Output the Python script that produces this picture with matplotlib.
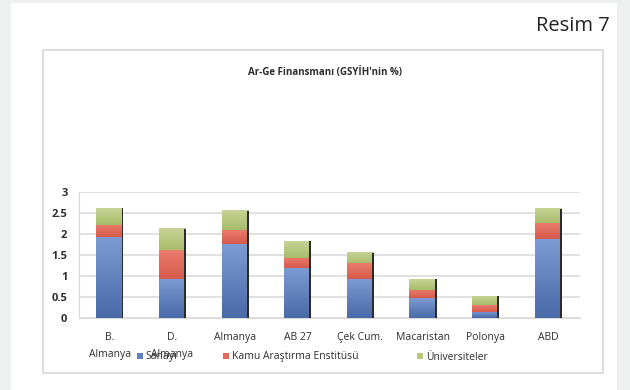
import matplotlib.pyplot as plt
from matplotlib.patches import Rectangle
from matplotlib.colors import LinearSegmentedColormap
import numpy as np

# Ar-Ge finansmani, GSYIH'nin yuzdesi olarak
ulkeler = ["B.\nAlmanya", "D.\nAlmanya", "Almanya", "AB 27", "Çek Cum.", "Macaristan", "Polonya", "ABD"]
sanayi = [1.92, 0.93, 1.76, 1.18, 0.94, 0.47, 0.15, 1.87]
kamu = [0.29, 0.69, 0.33, 0.25, 0.36, 0.20, 0.16, 0.38]
universite = [0.40, 0.51, 0.46, 0.40, 0.24, 0.25, 0.21, 0.34]
seriler = ["Sanayi", "Kamu Araştırma Enstitüsü", "Üniversiteler"]
renkler = ["#5e82bf", "#e2695b", "#b9c97c"]
# her dilim icin alt/ust gecis renkleri
gecisler = [("#4a6aa8", "#7c9bd2"), ("#d65a4b", "#ea7b6c"), ("#a9bc6b", "#c6d396")]

plt.rcParams['font.family'] = ['Open Sans', 'DejaVu Sans']
yazi = "#2e2e2e"

fig = plt.figure(figsize=(6.3, 3.9), dpi=100)
fig.patch.set_facecolor("#eef0ef")

# beyaz kart ve grafik cercevesi
fig.patches.append(Rectangle((11/630, 0), 606/630, 387/390, transform=fig.transFigure,
                             facecolor="white", edgecolor="none", zorder=-2))
fig.patches.append(Rectangle((43/630, 1-373/390), 560/630, 323/390, transform=fig.transFigure,
                             facecolor="white", edgecolor="#d6d8d8", lw=1.2, zorder=-1))

fig.text(610/630, 1-26/390, "Resim 7", ha="right", va="center", fontsize=14.5, color="#222222")
fig.text(325/630, 1-72/390, "Ar-Ge Finansmanı (GSYİH'nin %)", ha="center", va="center",
         fontsize=7, color=yazi, fontweight="bold")

ax = fig.add_axes([78.5/630, 1-318/390, 501/630, 126/390])
ax.set_zorder(2)
ax.set_facecolor("none")
x = np.arange(len(ulkeler))
w = 0.43
alt = np.zeros(len(ulkeler))
handles = []
grad = np.linspace(0, 1, 64).reshape(-1, 1)
for vals, renk, ad, (c0, c1) in zip([sanayi, kamu, universite], renkler, seriler, gecisler):
    b = ax.bar(x, vals, w, bottom=alt, color=renk, label=ad, zorder=3)
    handles.append(b)
    cmap = LinearSegmentedColormap.from_list(ad, [c0, c1])
    for p in b.patches:
        x0, y0 = p.get_x(), p.get_y()
        ax.imshow(grad, cmap=cmap, origin="lower", aspect="auto", zorder=3.5,
                  extent=[x0, x0 + p.get_width(), y0, y0 + p.get_height()])
    alt = alt + np.array(vals)
# sag kenardaki koyu golge
ax.bar(x + w/2 - 0.012, alt, 0.03, color="#2b2b2b", zorder=4)

ax.set_xlim(-0.5, len(ulkeler) - 0.5)
ax.set_ylim(0, 3)
ax.set_yticks([0, 0.5, 1, 1.5, 2, 2.5, 3])
ax.set_yticklabels(["0", "0.5", "1", "1.5", "2", "2.5", "3"])
ax.yaxis.grid(True, color="#dcdcdc", lw=1.2, zorder=0)
ax.set_xticks(x)
ax.set_xticklabels(ulkeler, fontsize=7.5, color=yazi, linespacing=1.75)
ax.tick_params(axis="y", labelsize=8, colors=yazi, length=0, pad=8)
ax.tick_params(axis="x", length=0, pad=10)
for lab in ax.get_yticklabels():
    lab.set_fontweight("bold")
for s in ["top", "right"]:
    ax.spines[s].set_visible(False)
ax.spines["left"].set_color("#d8d8d8")
ax.spines["bottom"].set_color("#d8d8d8")

# lejant ogeleri tek tek yerlestiriliyor
for h, ad, xpos in zip(handles, seriler, [137, 223, 417]):
    leg = fig.legend([h], [ad], loc="center left", bbox_to_anchor=(xpos/630, 1-357/390),
                     frameon=False, fontsize=7.5, handlelength=0.55, handleheight=0.55,
                     handletextpad=0.3, borderpad=0, borderaxespad=0)
    for t in leg.get_texts():
        t.set_color(yazi)

fig.savefig("out.png", dpi=100, facecolor=fig.get_facecolor())
